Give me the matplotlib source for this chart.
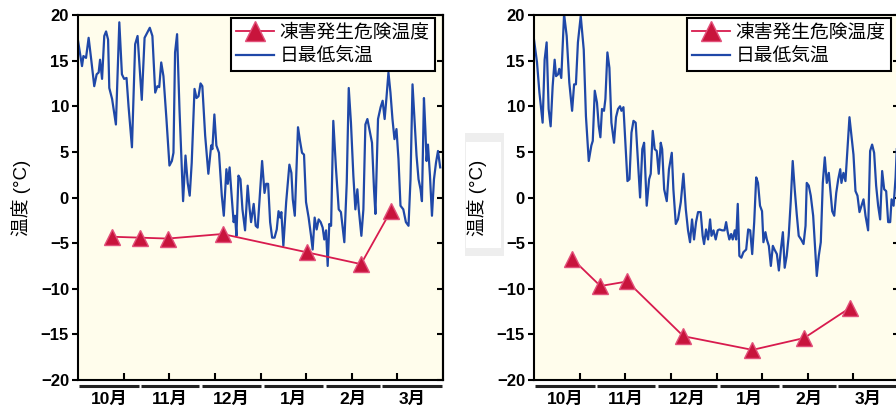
import numpy as np
import matplotlib
matplotlib.use("Agg")
import matplotlib.pyplot as plt
from matplotlib.patches import Rectangle

plt.rcParams['font.family'] = ['Liberation Sans', 'Noto Sans CJK JP']

# %%
# Data. x = days counted from 1 October.
months = ['10月', '11月', '12月', '1月', '2月', '3月']
month_days = [31, 30, 31, 31, 28, 31]

# left panel: daily minimum temperature
left_day = [0, 2, 2.7, 4, 5.3, 6.6, 8.1, 9.3, 10.3, 11, 12, 13.1, 14, 15, 15.6, 17,
            18.9, 20.6, 21.9, 23, 24.2, 25.2, 26.9, 28.5, 29.7, 31.8, 33.2, 35.8,
            37.1, 38.5, 39.6, 40.5, 41.5, 42.6, 44.1, 45.6, 46.8, 47.6, 48.4, 49.4,
            50.6, 52.4, 53.6, 54.7, 55.7, 56.7, 58.1, 59.1, 60.1, 61.1, 62.0, 63.4,
            65.0, 66.4, 67.0, 68.0, 69.0, 70.3, 71.7, 72.7, 74.0, 74.7, 75.6, 76.6,
            77.6, 78.3, 79.0, 80.0, 81.0, 82.0, 83.3, 84.6, 85.6, 86.3, 87.6, 88.6,
            89.6, 91.8, 93.0, 93.8, 94.8, 95.8, 96.8, 98.0, 99.1, 100, 100.8, 101.4,
            102.4, 103.8, 105.4, 106.4, 107.1, 108.1, 109.1, 109.7, 110.7, 111.7,
            112.7, 113.7, 115.0, 116.2, 117.0, 118.0, 119.0, 120.0, 121.0, 122.0,
            122.8, 123.7, 124.5, 125.3, 126.2, 127.3, 128.6, 130.0, 131.1, 132.8,
            134.0, 135.0, 136.1, 137.3, 138.3, 139.3, 140.0, 141.3, 142.3, 143.3,
            144.3, 145.6, 146.6, 147.6, 148.3, 149.6, 150.9, 151.9, 152.9, 153.8,
            154.8, 155.8, 156.8, 157.8, 158.8, 159.8, 160.8, 162.2, 163.5, 164.8,
            165.8, 166.8, 167.8, 168.8, 169.8, 170.8, 171.5, 172.5, 173.2, 173.8,
            174.5, 175.5, 176.5, 177.5, 178.5, 179.5, 180.6]
left_tmin = [17.2, 14.4, 15.5, 15.3, 17.5, 15.1, 12.2, 13.5, 13.7, 15.1, 13.0, 17.7,
             18.2, 17.3, 12.0, 10.8, 8.0, 19.2, 13.5, 13.0, 13.1, 10.0, 5.5, 16.8,
             17.7, 10.7, 17.5, 18.6, 17.7, 11.5, 12.2, 12.1, 14.8, 13.3, 8.6, 3.5,
             4.0, 4.9, 15.9, 17.9, 9.7, -0.4, 4.6, 1.6, 0.2, 3.8, 11.9, 10.9, 11.1,
             12.5, 12.2, 6.8, 2.6, 5.7, 5.3, 9.1, 5.7, 4.9, 0.2, -2.0, 3.1, 1.5, 3.3,
             0.2, -2.7, -2.0, -4.2, 2.4, 2.0, -1.3, -3.6, 1.3, -1.3, -2.7, -0.7, -3.1,
             -3.3, 4.0, 0.5, 1.5, 1.5, -2.7, -4.4, -4.4, -3.5, -1.5, -2.2, -1.6,
             -5.3, -0.5, 3.6, 2.7, -0.2, -2.0, 4.2, 7.7, 6.2, 4.9, 4.7, -0.5, -2.2,
             -4.2, -5.7, -2.2, -3.5, -2.4, -2.7, -3.3, -4.6, -3.6, -7.5, -2.9, -3.1,
             8.4, 3.3, -1.3, -1.6, -4.9, 1.6, 12.0, 8.2, 2.4, -1.3, 0.9, -1.3, -4.2,
             -1.3, 8.0, 8.6, 7.1, 6.0, 0.9, -1.8, 8.6, 9.9, 10.6, 8.6, 10.9, 13.7,
             11.5, 8.6, 6.4, 7.5, 4.2, -0.9, -1.3, -2.7, -3.1, 2.0, 12.4, 8.6, 4.6,
             2.0, 0.9, -0.4, 10.9, 7.5, 4.0, 5.8, 2.4, -2.0, 2.0, 3.8, 5.1, 3.3]

# left panel: frost damage risk temperature
left_risk_day = [16.8, 30.8, 44.7, 72.1, 114.0, 141.1, 155.9]
left_risk = [-4.3, -4.4, -4.5, -4.0, -6.0, -7.3, -1.5]

# right panel: daily minimum temperature
right_day = [0, 1.5, 2.7, 4.3, 5.3, 6.3, 7.3, 8.3, 9.3, 10.3, 11, 12, 12.6, 13.6, 15,
             16.3, 17.6, 19, 20, 20.9, 21.9, 23.3, 24.8, 25.9, 27.3, 28.6, 29.3,
             30.3, 31.4, 32.3, 33.1, 33.9, 34.9, 35.6, 36.6, 37.6, 38.6, 39.9, 40.9,
             41.9, 42.9, 43.6, 44.6, 46.6, 47.6, 48.6, 49.6, 50.7, 52.9, 54.0, 54.9,
             56.2, 57.4, 58.2, 59.2, 60.2, 61.2, 62.2, 63.2, 63.9, 64.9, 66.2, 67.3,
             68.7, 69.5, 70.7, 71.8, 73.2, 74.5, 75.7, 76.8, 77.8, 78.8, 79.8, 80.8,
             81.8, 83.1, 84.1, 84.8, 85.8, 86.8, 87.8, 88.5, 89.5, 90.6, 91.6, 92.5,
             93.8, 95.0, 95.8, 96.6, 97.4, 98.3, 99.1, 100.1, 100.8, 101.6, 102.4,
             103.4, 104.4, 105.8, 106.8, 107.8, 108.8, 109.8, 110.8, 111.7, 112.7,
             113.7, 114.4, 115.4, 116.1, 117.1, 118.1, 119.1, 119.9, 121.1, 122.1,
             123.1, 124.1, 125.0, 126.0, 127.0, 128.0, 129.0, 130.0, 131.0, 132.0,
             133.2, 134.4, 135.4, 136.0, 137.0, 138.0, 139.2, 140.0, 141.0, 142.0,
             143.0, 144.0, 145.0, 146.0, 147.0, 148.0, 148.7, 149.7, 150.7, 151.7,
             152.7, 153.3, 154.3, 155.3, 156.3, 157.3, 158.3, 159.3, 160.3, 161.3,
             162.3, 163.3, 164.3, 165.3, 166.6, 167.6, 168.6, 169.6, 170.6, 171.6,
             172.6, 173.6, 174.6, 175.6, 176.6, 177.6, 178.3, 179.3, 180.3, 180.9]
right_tmin = [17.3, 14.8, 11.5, 8.2, 15.1, 17.0, 9.7, 7.8, 12.2, 15.1, 13.3, 13.5,
              14.1, 13.1, 20.1, 17.7, 12.6, 9.5, 12.4, 12.4, 17.0, 19.9, 16.2, 8.9,
              4.0, 5.7, 6.2, 11.7, 10.4, 7.8, 6.6, 9.7, 9.5, 10.8, 15.9, 14.2, 8.2,
              6.0, 8.8, 9.7, 10.0, 9.5, 9.9, 1.8, 2.0, 7.1, 8.4, 8.2, 0.0, 5.3, 6.0,
              -0.9, 2.0, 2.6, 7.3, 5.3, 5.1, 2.6, 6.0, 5.3, 0.9, -0.4, 3.1, 4.9, 0.9,
              -2.9, -2.4, -0.5, 2.6, -1.3, -3.6, -4.9, -2.4, -4.6, -2.7, -1.6, -1.6,
              -4.2, -5.1, -3.5, -4.6, -2.4, -4.2, -3.6, -4.6, -3.6, -3.5, -3.6, -3.6,
              -2.7, -3.8, -4.6, -4.0, -4.6, -3.6, -4.6, -0.7, -6.4, -6.6, -6.0, -5.7,
              -3.5, -3.6, -6.2, -2.7, 2.2, 1.6, -0.9, -1.5, -4.9, -3.8, -4.6, -5.3,
              -7.5, -5.3, -5.7, -6.2, -8.0, -5.7, -3.8, -7.7, -6.4, -4.2, -0.5, 4.0,
              0.9, -1.8, -4.2, -4.6, -5.1, -3.1, 1.6, 1.3, 0.2, -2.0, -4.9, -8.6,
              -6.4, -4.9, 1.6, 4.4, 1.6, 2.7, 0.2, -1.5, -2.0, 0.5, 2.0, 3.1, 1.6,
              2.7, 1.8, 5.3, 8.8, 6.8, 4.7, 0.7, 0.2, -1.6, -0.9, -0.2, -2.0, -3.6,
              5.1, 5.8, 4.9, 1.3, -0.9, -2.4, 2.9, 0.9, 0.7, -2.7, -2.7, -0.2, -0.9,
              2.2, 5.3]

# right panel: frost damage risk temperature
right_risk_day = [19.0, 33.1, 46.5, 74.5, 108.9, 134.7, 157.5]
right_risk = [-6.7, -9.7, -9.2, -15.2, -16.7, -15.4, -12.1]

# %%
BG = '#fffdec'
BLUE = '#1f48a8'
RED = '#d81b4e'


def draw_panel(ax, day, tmin, risk_day, risk):
    ax.set_facecolor(BG)
    ax.plot(risk_day, risk, color=RED, lw=1.3, marker='^', ms=12,
            mfc='#c8143c', mec='#e2507a', mew=1, label='凍害発生危険温度', zorder=3)
    ax.plot(day, tmin, color=BLUE, lw=1.6, label='日最低気温', zorder=2)

    ax.set_xlim(0, 182)
    ax.set_ylim(-20, 20)
    ax.set_yticks(np.arange(-20, 21, 5))
    ax.set_xticks([182 * k / 8 for k in range(1, 8)])
    ax.set_xticklabels([])
    ax.tick_params(axis='x', direction='in', length=5, width=1.5)
    ax.tick_params(axis='y', direction='out', length=4.5, width=1.5,
                   labelsize=12, pad=2)
    for lab in ax.get_yticklabels():
        lab.set_fontweight('bold')
    for sp in ax.spines.values():
        sp.set_linewidth(1.5)

    sec = ax.secondary_yaxis('right')
    sec.set_yticks(np.arange(-20, 21, 5))
    sec.tick_params(direction='in', length=4.5, width=1.5, labelright=False)
    sec.spines['right'].set_linewidth(1.5)

    # month bars and labels below the axis
    start = 0
    for name, n in zip(months, month_days):
        ax.plot([start + 0.6, start + n - 0.6], [-0.017, -0.017],
                transform=ax.get_xaxis_transform(), color='#222222', lw=2.2,
                clip_on=False, solid_capstyle='butt')
        ax.text(start + n / 2, -0.054, name, transform=ax.get_xaxis_transform(),
                ha='center', va='center', fontsize=12.5, fontweight='bold')
        start += n

    ax.set_ylabel('温度 (°C)', fontsize=13.5)
    ax.yaxis.set_label_coords(-0.128, 0.5)

    leg = ax.legend(loc='upper right', bbox_to_anchor=(0.978, 0.992), fontsize=13.5,
                    fancybox=False, edgecolor='black', framealpha=1,
                    borderpad=0.3, handlelength=2.0, handletextpad=0.3,
                    labelspacing=0.35, borderaxespad=0, markerscale=1.2)
    leg.get_frame().set_linewidth(1.5)


fig = plt.figure(figsize=(8.96, 4.12), dpi=100)
ax1 = fig.add_axes([78 / 896, 32 / 412, 365 / 896, 365 / 412])
ax2 = fig.add_axes([534 / 896, 32 / 412, 365 / 896, 365 / 412])

# grey box behind the right y label
fig.patches.append(Rectangle((465 / 896, 156 / 412), 39 / 896, 123 / 412,
                             transform=fig.transFigure, fc='#eeeeee', ec='none', zorder=-2))
fig.patches.append(Rectangle((466 / 896, 164 / 412), 35 / 896, 106 / 412,
                             transform=fig.transFigure, fc='white', ec='none', zorder=-1))

draw_panel(ax1, left_day, left_tmin, left_risk_day, left_risk)
draw_panel(ax2, right_day, right_tmin, right_risk_day, right_risk)

fig.savefig('out.png', dpi=100)
